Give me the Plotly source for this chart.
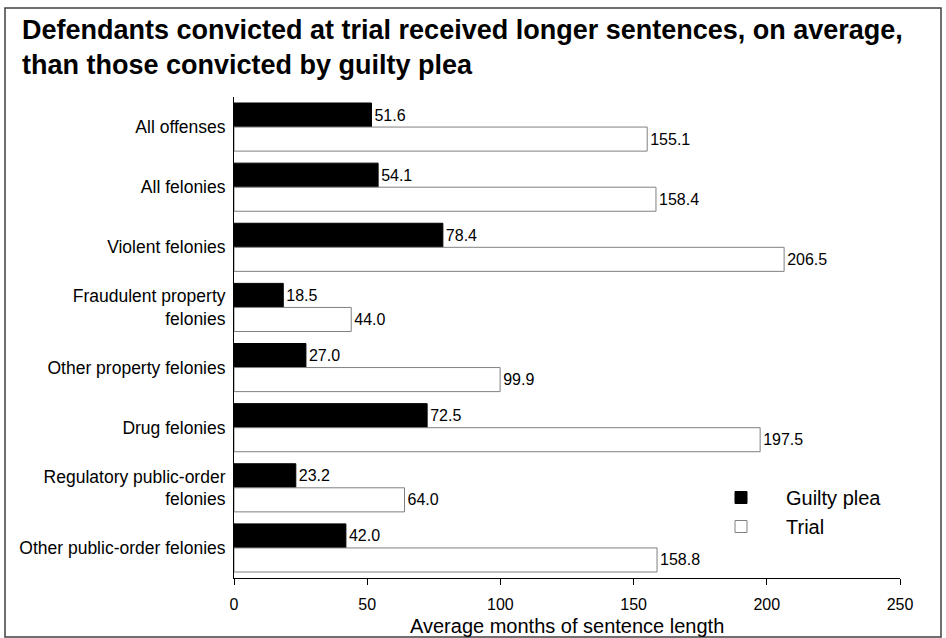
import plotly.graph_objects as go

categories = ["All offenses", "All felonies", "Violent felonies",
              "Fraudulent property<br>felonies", "Other property felonies",
              "Drug felonies", "Regulatory public-order<br>felonies",
              "Other public-order felonies"]
guilty_plea = [51.6, 54.1, 78.4, 18.5, 27.0, 72.5, 23.2, 42.0]
trial = [155.1, 158.4, 206.5, 44.0, 99.9, 197.5, 64.0, 158.8]
x_ticks = [0, 50, 100, 150, 200, 250]
title_text = ("<b>Defendants convicted at trial received longer sentences, on average,"
              "<br>than those convicted by guilty plea</b>")
x_title = "Average months of sentence length"

FONT = "Arial, Liberation Sans, sans-serif"

W, H = 946, 638
L, R, T, B = 234, 900, 97, 578


def px_x(p):
    return (p - L) / (R - L)


def px_y(p):
    return (B - p) / (B - T)


fig = go.Figure()
fig.add_trace(go.Bar(
    y=categories, x=guilty_plea, orientation="h", name="Guilty plea",
    marker=dict(color="black", line=dict(color="black", width=1)),
    text=[f"{v:.1f}" for v in guilty_plea], textposition="outside",
    textfont=dict(size=16, color="black", family=FONT), cliponaxis=False,
))
fig.add_trace(go.Bar(
    y=categories, x=trial, orientation="h", name="Trial",
    marker=dict(color="white", line=dict(color="#808080", width=1)),
    text=[f"{v:.1f}" for v in trial], textposition="outside",
    textfont=dict(size=16, color="black", family=FONT), cliponaxis=False,
))

fig.update_layout(
    width=W, height=H,
    margin=dict(l=L, r=W - R, t=T, b=H - B, pad=0, autoexpand=False),
    paper_bgcolor="white", plot_bgcolor="white",
    font=dict(family=FONT, color="black", size=16),
    barmode="group", bargap=0.2, bargroupgap=0,
    showlegend=True,
    legend=dict(
        x=px_x(696), y=px_y(478), xanchor="left", yanchor="top",
        traceorder="normal", font=dict(size=20, family=FONT),
        bgcolor="rgba(0,0,0,0)", tracegroupgap=0, itemwidth=80,
    ),
    xaxis=dict(
        range=[0, 250], tickvals=x_ticks, ticks="outside", ticklen=6,
        tickcolor="black", showline=True, linecolor="black", linewidth=1,
        showgrid=False, zeroline=False, tickfont=dict(size=16),
        ticklabelstandoff=6, automargin=False,
    ),
    yaxis=dict(
        autorange="reversed", showline=True, linecolor="black", linewidth=1,
        showgrid=False, zeroline=False, ticks="", ticklabelstandoff=4,
        tickfont=dict(size=17.5), automargin=False,
    ),
    annotations=[
        dict(
            text=title_text, xref="paper", yref="paper",
            x=px_x(20), y=px_y(13), xanchor="left", yanchor="top",
            align="left", showarrow=False,
            font=dict(size=27, family=FONT, color="black"),
        ),
        dict(
            text=x_title, xref="paper", yref="paper",
            x=0.5, y=px_y(626), xanchor="center", yanchor="middle",
            showarrow=False, font=dict(size=20, family=FONT, color="black"),
        ),
    ],
    shapes=[dict(
        type="rect", xref="paper", yref="paper",
        x0=px_x(5), x1=px_x(941), y0=px_y(637), y1=px_y(8),
        line=dict(color="#404040", width=1.5), fillcolor="rgba(0,0,0,0)",
        layer="below",
    )],
)

fig.write_html("out.html", config={"displayModeBar": False},
               post_script="document.body.style.margin='0';")
